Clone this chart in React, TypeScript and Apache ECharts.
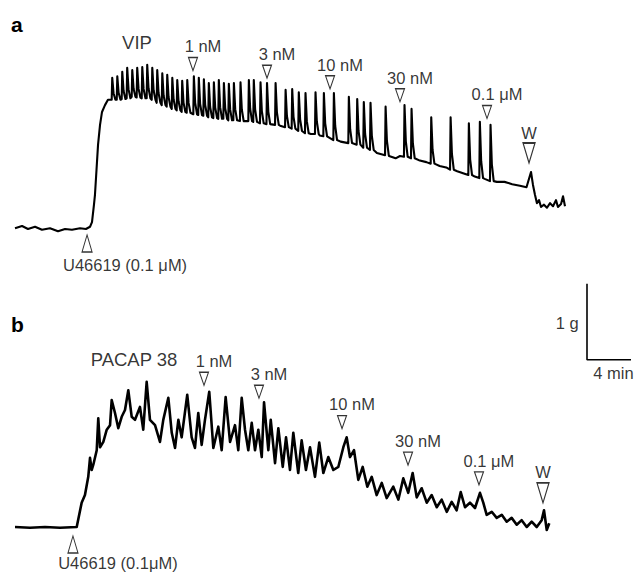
import React, { useEffect, useRef } from 'react';
import * as echarts from 'echarts';

const FONT = '"Liberation Sans", Arial, Helvetica, sans-serif';

// ---------- Panel a: VIP ----------
// slow trace points [min, g]
const vipBaseline: [number, number][] = [
  [0, 0.01], [0.64, 0.04], [1.18, 0], [1.82, 0.03], [2.45, -0.01], [3.18, 0.01], [3.91, -0.03],
  [4.55, 0], [5.18, -0.01], [5.91, 0.01], [6.45, 0], [6.82, 0.03],
  [7.0, 0.09], [7.18, 0.32], [7.27, 0.45], [7.41, 0.78], [7.55, 1.11], [7.73, 1.37], [7.91, 1.54],
  [8.18, 1.63], [8.45, 1.7],
  [24.1, 1.36], [26.9, 1.25], [27.7, 1.23], [29.6, 1.15], [32.9, 1.0], [34.0, 0.96], [34.6, 0.93],
  [35.0, 0.96], [36.8, 0.9], [37.4, 0.88], [38.6, 0.83], [39.2, 0.81], [40.2, 0.76], [40.8, 0.73],
  [41.8, 0.69], [42.7, 0.66], [43.8, 0.62], [44.5, 0.62], [45.2, 0.59], [45.9, 0.57], [46.5, 0.55],
  [46.91, 0.75], [47.09, 0.58], [47.27, 0.45], [47.45, 0.34], [47.64, 0.38], [47.82, 0.29],
  [48.09, 0.32], [48.36, 0.28], [48.64, 0.34], [48.91, 0.3], [49.18, 0.38], [49.36, 0.29],
  [49.64, 0.33], [49.82, 0.43], [50.0, 0.3],
];
// phasic contractions [min, base g, peak g]
const vipSpikes: [number, number, number][] = [
  [8.79, 1.7, 1.99], [9.25, 1.7, 2.01], [9.7, 1.71, 2.07], [10.15, 1.72, 2.12], [10.61, 1.74, 2.09],
  [11.06, 1.73, 2.12], [11.52, 1.72, 2.13], [11.97, 1.72, 2.16], [12.43, 1.7, 2.12], [12.88, 1.66, 2.09],
  [13.34, 1.63, 2.05], [13.79, 1.61, 2.03], [14.25, 1.58, 1.99], [14.7, 1.56, 1.96], [15.15, 1.54, 1.95],
  [15.61, 1.53, 1.96], [16.21, 1.51, 2.01], [16.66, 1.5, 1.99], [17.12, 1.49, 1.97], [17.57, 1.47, 1.92],
  [18.03, 1.46, 1.93], [18.48, 1.45, 1.96], [18.94, 1.45, 1.92], [19.39, 1.43, 1.91], [19.85, 1.43, 1.92],
  [20.45, 1.42, 1.93], [21.21, 1.42, 1.96], [21.66, 1.41, 1.96], [22.27, 1.39, 1.93], [22.86, 1.38, 1.92],
  [23.64, 1.37, 1.92], [24.55, 1.34, 1.83], [25.15, 1.32, 1.84], [25.75, 1.29, 1.8], [26.36, 1.26, 1.79],
  [27.27, 1.25, 1.8], [28.03, 1.22, 1.79], [28.94, 1.17, 1.79], [30.3, 1.13, 1.74], [31.06, 1.11, 1.71],
  [31.66, 1.07, 1.67], [32.27, 1.04, 1.66], [33.64, 0.97, 1.61], [35.36, 0.95, 1.63], [36.0, 0.93, 1.58],
  [37.79, 0.86, 1.47], [39.55, 0.78, 1.47], [41.21, 0.71, 1.39], [42.21, 0.67, 1.41], [43.18, 0.63, 1.37],
];
const vipDoseLabels = ['1 nM', '3 nM', '10 nM', '30 nM', '0.1 μM'];
const vipDoseTimes = [16.18, 22.91, 28.64, 35.0, 42.91];
const vipDoseLevels = [2.17, 2.07, 1.93, 1.76, 1.54];
const vipWash: [number, number] = [46.73, 1.0];
const vipAgonist: [number, number] = [6.55, -0.19];
const vipAgonistLabel = 'U46619 (0.1 μM)';
const vipTitle = 'VIP';
const vipTitlePos: [number, number] = [11.09, 2.46];

// ---------- Panel b: PACAP 38 ----------
const pacapTrace: [number, number][] = [
  [0, 0], [1.36, -0.01], [2.73, 0], [4.09, -0.01], [5.61, 0],
  [6.06, 0.32], [6.36, 0.42], [6.66, 0.66], [6.82, 0.91], [6.97, 0.75], [7.12, 0.82], [7.43, 1.01],
  [7.57, 1.43], [7.73, 1.05], [8.03, 1.12], [8.34, 1.28], [8.64, 1.34], [8.79, 1.67], [9.09, 1.5],
  [9.39, 1.3], [9.7, 1.45], [10.0, 1.54], [10.3, 1.8], [10.61, 1.45], [10.91, 1.41], [11.36, 1.58],
  [11.66, 1.28], [11.97, 1.91], [12.27, 1.41], [12.73, 1.34], [13.18, 1.12], [13.48, 1.41], [13.94, 1.7],
  [14.25, 1.24], [14.55, 1.04], [14.85, 1.41], [15.15, 1.18], [15.66, 1.74], [16.06, 1.18], [16.36, 1.04],
  [16.66, 1.5], [16.97, 1.08], [17.27, 1.41], [17.66, 1.78], [18.03, 1.04], [18.48, 1.32], [18.79, 1.01],
  [19.15, 1.71], [19.55, 1.12], [20.0, 1.34], [20.3, 1.01], [20.61, 1.7], [20.91, 1.28], [21.21, 1.01],
  [21.52, 1.37], [21.82, 1.01], [22.12, 1.28], [22.43, 0.92], [22.64, 1.64], [23.03, 1.01], [23.25, 1.41],
  [23.64, 0.84], [23.94, 1.3], [24.34, 0.79], [24.64, 1.18], [25.0, 0.75], [25.3, 1.24], [25.75, 0.71],
  [26.06, 1.14], [26.45, 0.75], [26.82, 1.05], [27.27, 0.66], [27.66, 1.11], [28.03, 0.71], [28.48, 0.92],
  [28.94, 0.75], [29.39, 0.79], [29.85, 1.05], [30.15, 1.18], [30.45, 0.92], [30.82, 1.01], [31.21, 0.62],
  [31.61, 0.79], [32.03, 0.53], [32.43, 0.66], [32.88, 0.42], [33.34, 0.58], [33.79, 0.38], [34.39, 0.53],
  [34.85, 0.36], [35.3, 0.64], [35.75, 0.45], [36.15, 0.71], [36.52, 0.39], [36.97, 0.51], [37.43, 0.32],
  [37.88, 0.42], [38.34, 0.26], [38.79, 0.36], [39.25, 0.2], [39.7, 0.33], [40.15, 0.22], [40.52, 0.46],
  [40.91, 0.26], [41.36, 0.32], [41.82, 0.25], [42.27, 0.45], [42.57, 0.32], [42.88, 0.16], [43.34, 0.2],
  [43.79, 0.12], [44.25, 0.16], [44.7, 0.07], [45.15, 0.12], [45.61, 0.03], [46.06, 0.09], [46.52, 0.0],
  [46.97, 0.07], [47.43, 0.0], [47.88, 0.09], [48.09, 0.22], [48.34, -0.04], [48.57, 0.05],
];
const pacapDoseLabels = ['1 nM', '3 nM', '10 nM', '30 nM', '0.1 μM'];
const pacapDoseTimes = [17.18, 22.18, 29.73, 35.73, 42.18];
const pacapDoseLevels = [1.95, 1.78, 1.38, 0.9, 0.64];
const pacapWash: [number, number] = [48.0, 0.45];
const pacapAgonist: [number, number] = [5.27, -0.23];
const pacapAgonistLabel = 'U46619 (0.1μM)';
const pacapTitle = 'PACAP 38';
const pacapTitlePos: [number, number] = [10.82, 2.21];

// ---------- Scale bar (in panel b units) ----------
const scaleBar: [number, number][] = [[52, 3.2], [52, 2.2], [56, 2.2]];
const scaleLabels = ['1 g', '4 min'];
const scaleLabelPos: [number, number][] = [[50.2, 2.68], [54.4, 2.03]];

function buildSpikeTrace(base: [number, number][], spikes: [number, number, number][]) {
  const pts: [number, number][] = base.map((p) => [p[0], p[1]] as [number, number]);
  spikes.forEach(([t, b, p]) => {
    pts.push([t, b], [t + 0.05, p], [t + 0.17, b + (p - b) * 0.3], [t + 0.34, b]);
  });
  pts.sort((a, c) => a[0] - c[0]);
  return pts;
}

const textStyle = { color: '#000', fontFamily: FONT };

function panelSeries(
  idx: number,
  trace: [number, number][],
  width: number,
  doseLabels: string[],
  doseTimes: number[],
  doseLevels: number[],
  wash: [number, number],
  agonist: [number, number],
  agonistLabel: string,
  agonistOffset: [number, number],
  title: string,
  titlePos: [number, number]
) {
  return [
    {
      type: 'line',
      xAxisIndex: idx,
      yAxisIndex: idx,
      data: trace,
      showSymbol: false,
      symbol: 'none',
      lineStyle: { color: '#000', width, join: 'round' },
      z: 2,
    },
    {
      type: 'scatter',
      xAxisIndex: idx,
      yAxisIndex: idx,
      symbol: 'triangle',
      symbolRotate: 180,
      symbolSize: [9, 13],
      itemStyle: { color: '#fff', borderColor: '#000', borderWidth: 1.2 },
      label: {
        show: true,
        position: 'top',
        distance: 2,
        offset: [10, 0],
        fontSize: 16.5,
        ...textStyle,
        formatter: (p: any) => doseLabels[p.dataIndex],
      },
      data: doseTimes.map((t, i) => [t, doseLevels[i]]),
      z: 3,
    },
    {
      type: 'scatter',
      xAxisIndex: idx,
      yAxisIndex: idx,
      symbol: 'triangle',
      symbolRotate: 180,
      symbolSize: [12, 20],
      itemStyle: { color: '#fff', borderColor: '#000', borderWidth: 1.4 },
      label: { show: true, position: 'top', distance: 1, fontSize: 16.5, ...textStyle, formatter: 'W' },
      data: [wash],
      z: 3,
    },
    {
      type: 'scatter',
      xAxisIndex: idx,
      yAxisIndex: idx,
      symbol: 'triangle',
      symbolSize: [10, 17],
      itemStyle: { color: '#fff', borderColor: '#000', borderWidth: 1.2 },
      label: {
        show: true,
        position: 'bottom',
        distance: agonistOffset[1],
        offset: [agonistOffset[0], 0],
        fontSize: 16.5,
        ...textStyle,
        formatter: agonistLabel,
      },
      data: [agonist],
      z: 3,
    },
    {
      type: 'scatter',
      xAxisIndex: idx,
      yAxisIndex: idx,
      symbolSize: 0,
      itemStyle: { color: 'transparent' },
      label: { show: true, position: 'inside', fontSize: 18.5, ...textStyle, formatter: title },
      data: [titlePos],
      z: 3,
    },
  ];
}

export default function App() {
  const ref = useRef<HTMLDivElement>(null);
  useEffect(() => {
    document.body.style.margin = '0';
    const chart = echarts.init(ref.current!, undefined, { renderer: 'svg' });
    const vipTrace = buildSpikeTrace(vipBaseline, vipSpikes);
    const option: any = {
      animation: false,
      backgroundColor: '#fff',
      grid: [
        { left: 15, top: 39, width: 616, height: 228 },
        { left: 15, top: 261, width: 616, height: 304 },
      ],
      xAxis: [
        { type: 'value', gridIndex: 0, min: 0, max: 56, show: false },
        { type: 'value', gridIndex: 1, min: 0, max: 56, show: false },
      ],
      yAxis: [
        { type: 'value', gridIndex: 0, min: -0.5, max: 2.5, show: false },
        { type: 'value', gridIndex: 1, min: -0.5, max: 3.5, show: false },
      ],
      graphic: [
        { type: 'text', left: 11, top: 14, style: { text: 'a', font: `bold 21px ${FONT}`, fill: '#000' } },
        { type: 'text', left: 11, top: 314, style: { text: 'b', font: `bold 21px ${FONT}`, fill: '#000' } },
      ],
      series: [
        ...panelSeries(0, vipTrace, 2.1, vipDoseLabels, vipDoseTimes, vipDoseLevels, vipWash, vipAgonist,
          vipAgonistLabel, [38, 4], vipTitle, vipTitlePos),
        ...panelSeries(1, pacapTrace, 2.6, pacapDoseLabels, pacapDoseTimes, pacapDoseLevels, pacapWash,
          pacapAgonist, pacapAgonistLabel, [45, 1], pacapTitle, pacapTitlePos),
        {
          type: 'line',
          xAxisIndex: 1,
          yAxisIndex: 1,
          data: scaleBar,
          showSymbol: false,
          symbol: 'none',
          lineStyle: { color: '#000', width: 1.6 },
          z: 3,
        },
        {
          type: 'scatter',
          xAxisIndex: 1,
          yAxisIndex: 1,
          symbolSize: 0,
          itemStyle: { color: 'transparent' },
          label: {
            show: true,
            position: 'inside',
            fontSize: 16.5,
            ...textStyle,
            formatter: (p: any) => scaleLabels[p.dataIndex],
          },
          data: scaleLabelPos,
          z: 3,
        },
      ],
    };
    chart.setOption(option);
    return () => chart.dispose();
  }, []);
  return <div ref={ref} style={{ width: 637, height: 572 }} />;
}
